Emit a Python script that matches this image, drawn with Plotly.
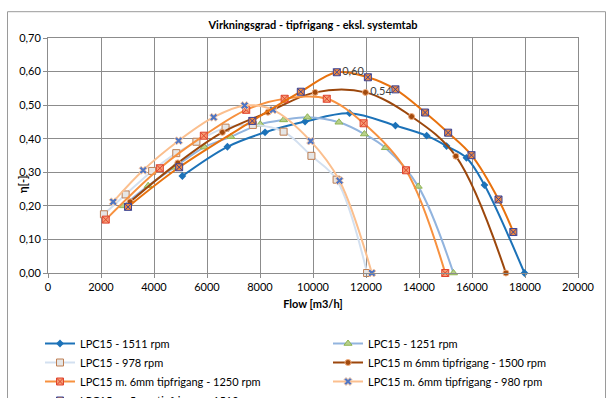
import plotly.graph_objects as go

# ---- data ----
names = [
    "LPC15 - 1511 rpm",
    "LPC15 - 1251 rpm",
    "LPC15 - 978 rpm",
    "LPC15 m 6mm tipfrigang - 1500 rpm",
    "LPC15 m. 6mm tipfrigang - 1250 rpm",
    "LPC15 m. 6mm tipfrigang - 980 rpm",
    "LPC15 m. 5mm tipfrigang - 1510 rpm",
]

flow_1511 = [5070, 6770, 8190, 9700, 11380, 13110, 14290, 15040, 15790, 16470, 17980]
eta_1511 = [0.289, 0.376, 0.419, 0.451, 0.476, 0.439, 0.409, 0.378, 0.343, 0.262, 0.0]

flow_1251 = [2840, 3780, 4780, 5900, 6900, 8010, 8890, 9790, 10980, 11940, 12730, 13970, 15300]
eta_1251 = [0.200, 0.260, 0.315, 0.375, 0.406, 0.443, 0.456, 0.464, 0.449, 0.414, 0.373, 0.258, 0.0]

flow_978 = [2110, 2930, 3930, 4840, 5600, 6700, 7730, 8890, 9940, 10890, 12040]
eta_978 = [0.175, 0.234, 0.304, 0.357, 0.391, 0.433, 0.441, 0.421, 0.349, 0.278, 0.0]

flow_6mm_1500 = [3100, 4900, 6580, 8300, 10080, 11980, 13720, 15390, 17280]
eta_6mm_1500 = [0.212, 0.328, 0.419, 0.479, 0.538, 0.538, 0.466, 0.348, 0.0]
lbl_6mm_1500 = ["", "", "", "", "", "0,54", "", "", ""]

flow_6mm_1250 = [2180, 4220, 5880, 7480, 8930, 10520, 11910, 13510, 14990]
eta_6mm_1250 = [0.159, 0.312, 0.409, 0.486, 0.519, 0.519, 0.446, 0.306, 0.0]

flow_6mm_980 = [2460, 3590, 4930, 6250, 7420, 8490, 9910, 11000, 12220]
eta_6mm_980 = [0.212, 0.306, 0.394, 0.464, 0.499, 0.486, 0.393, 0.275, 0.0]

flow_5mm_1510 = [3020, 4950, 7710, 9540, 10900, 12070, 13110, 14230, 15100, 15980, 17000, 17560]
eta_5mm_1510 = [0.197, 0.315, 0.453, 0.540, 0.598, 0.583, 0.547, 0.478, 0.418, 0.351, 0.219, 0.122]
lbl_5mm_1510 = ["", "", "", "", "0,60", "", "", "", "", "", "", ""]

x_ticks = [0, 2000, 4000, 6000, 8000, 10000, 12000, 14000, 16000, 18000, 20000]
y_ticks = [0.0, 0.1, 0.2, 0.3, 0.4, 0.5, 0.6, 0.7]

title_text = "Virkningsgrad - tipfrigang - eksl. systemtab"
x_title = "Flow [m3/h]"
y_title = "η[-]"

# ---- styles ----
FONT = "Lato"
GRID = "#8C8C8C"

styles = [
    dict(line=dict(color="#1C72B8", width=2),
         marker=dict(symbol="diamond", size=6, color="#1C72B8", line=dict(color="#1C72B8", width=0))),
    dict(line=dict(color="#92B4DE", width=2),
         marker=dict(symbol="triangle-up", size=7, color="#B7D08A", line=dict(color="#8FB452", width=1))),
    dict(line=dict(color="#D3E0F0", width=2),
         marker=dict(symbol="square", size=7, color="#E6E6E6", line=dict(color="#BE7E52", width=1))),
    dict(line=dict(color="#9C470C", width=2),
         marker=dict(symbol="circle", size=6, color="#A24A0E", line=dict(color="#F2AE7E", width=1))),
    dict(line=dict(color="#F7913F", width=2),
         marker=dict(symbol="square-x", size=7, color="#F49C74", line=dict(color="#E0442E", width=1))),
    dict(line=dict(color="#FBBF8E", width=2),
         marker=dict(symbol="x", size=7, color="#4F76C4", line=dict(color="#FAC9A4", width=1))),
    dict(line=dict(color="#E8720E", width=2),
         marker=dict(symbol="square-x", size=7, color="#F0873C", line=dict(color="#3B4496", width=1))),
]

series = [
    (flow_1511, eta_1511, None),
    (flow_1251, eta_1251, None),
    (flow_978, eta_978, None),
    (flow_6mm_1500, eta_6mm_1500, lbl_6mm_1500),
    (flow_6mm_1250, eta_6mm_1250, None),
    (flow_6mm_980, eta_6mm_980, None),
    (flow_5mm_1510, eta_5mm_1510, lbl_5mm_1510),
]

fig = go.Figure()
for i, (name, (xs, ys, lbl), st) in enumerate(zip(names, series, styles)):
    fig.add_trace(go.Scatter(
        x=xs, y=ys, name=name,
        legend="legend" if i % 2 == 0 else "legend2",
        mode="lines+markers+text" if lbl else "lines+markers",
        text=lbl, textposition="middle right",
        textfont=dict(family=FONT, size=11, color="#404040"),
        line=dict(shape="spline", smoothing=1.0, **st["line"]),
        marker=st["marker"],
        cliponaxis=False,
    ))

L, R, T, B = 48, 28, 38, 125
W, H = 606, 398
pw, ph = W - L - R, H - T - B

def px_x(p):
    return (p - L) / pw

def px_y(p):
    return (H - B - p) / ph

legend_common = dict(orientation="v", xanchor="left", yanchor="top",
                     xref="container", yref="container", itemwidth=30,
                     font=dict(family=FONT, size=11, color="#000000"),
                     bgcolor="rgba(0,0,0,0)", traceorder="normal",
                     tracegroupgap=0)

fig.update_layout(
    width=W, height=H,
    margin=dict(l=L, r=R, t=T, b=B, pad=0, autoexpand=False),
    paper_bgcolor="white", plot_bgcolor="white",
    separators=", ",
    font=dict(family=FONT, size=11, color="#000000"),
    title=dict(text="<b>" + title_text + "</b>", x=313 / W, xanchor="center",
               y=(H - 25) / H, yanchor="middle", font=dict(family=FONT, size=11, color="#000000")),
    showlegend=True,
    legend=dict(x=40 / W, y=(H - 329) / H, **legend_common),
    legend2=dict(x=328 / W, y=(H - 329) / H, **legend_common),
    xaxis=dict(range=[0, 20000], tickvals=x_ticks, tickformat="d",
               showgrid=True, gridcolor=GRID, gridwidth=1,
               showline=True, linecolor=GRID, linewidth=1, mirror=True,
               ticks="outside", ticklen=4, tickcolor=GRID,
               zeroline=False, tickfont=dict(family=FONT, size=11, color="#000000"),
               title=dict(text="<b>" + x_title + "</b>", standoff=8,
                          font=dict(family=FONT, size=11, color="#000000"))),
    yaxis=dict(range=[0, 0.70], tickvals=y_ticks, tickformat=".2f",
               showgrid=True, gridcolor=GRID, gridwidth=1,
               showline=True, linecolor=GRID, linewidth=1, mirror=True,
               ticks="outside", ticklen=4, tickcolor=GRID,
               zeroline=False, tickfont=dict(family=FONT, size=11, color="#000000")),
    annotations=[dict(text="<b>" + y_title + "</b>", textangle=-90, showarrow=False,
                      xref="paper", yref="paper", x=px_x(22), y=px_y(184),
                      xanchor="center", yanchor="middle",
                      font=dict(family=FONT, size=11, color="#000000"))],
    shapes=[dict(type="rect", xref="paper", yref="paper",
                 x0=px_x(7.5), x1=px_x(605.5), y0=px_y(430), y1=px_y(11.7),
                 line=dict(color="#9A9A9A", width=1), fillcolor="rgba(0,0,0,0)",
                 layer="below")],
)

fig.write_html("out.html")
